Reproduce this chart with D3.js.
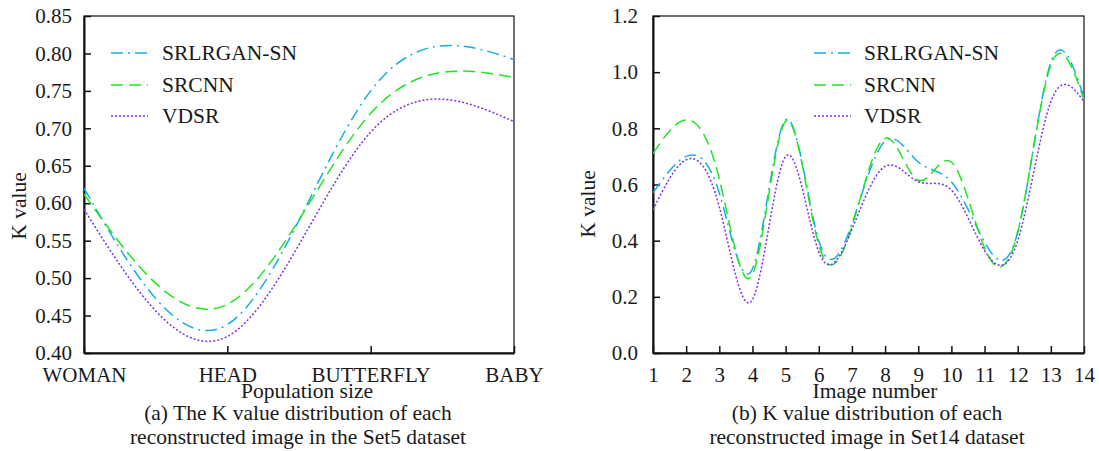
<!DOCTYPE html>
<html>
<head>
<meta charset="utf-8">
<script src="https://cdn.jsdelivr.net/npm/d3@7"></script>
<style>
  body { margin: 0; background: #fff; }
  svg { font-family: "Liberation Serif", "Times New Roman", serif; }
  .tick text { fill: #1a1a1a; }
</style>
</head>
<body>
<div id="chart"></div>
<script>
var width = 1099,
    height = 451;

// Set5 panel (a)
var set5Labels = ["WOMAN", "HEAD", "BUTTERFLY", "BABY"];
var set5Srlrgan = [0.62, 0.438, 0.75, 0.792];
var set5Srcnn = [0.612, 0.465, 0.72, 0.768];
var set5Vdsr = [0.592, 0.422, 0.695, 0.709];
var set5Ticks = [0.40, 0.45, 0.50, 0.55, 0.60, 0.65, 0.70, 0.75, 0.80, 0.85];

// Set14 panel (b)
var set14Images = [1, 2, 3, 4, 5, 6, 7, 8, 9, 10, 11, 12, 13, 14];
var set14Srlrgan = [0.57, 0.70, 0.57, 0.30, 0.83, 0.40, 0.46, 0.755, 0.68, 0.61, 0.395, 0.43, 1.035, 0.91];
var set14Srcnn = [0.71, 0.83, 0.62, 0.28, 0.825, 0.385, 0.45, 0.765, 0.615, 0.68, 0.375, 0.43, 1.025, 0.90];
var set14Vdsr = [0.51, 0.688, 0.52, 0.19, 0.70, 0.36, 0.44, 0.665, 0.61, 0.58, 0.365, 0.40, 0.895, 0.895];
var set14Ticks = [0.0, 0.2, 0.4, 0.6, 0.8, 1.0, 1.2];

var seriesNames = ["SRLRGAN-SN", "SRCNN", "VDSR"];
var seriesStyle = [
    { color: "#12aeea", dash: "12,5,2,5" },
    { color: "#1ee61e", dash: "12,6" },
    { color: "#7d2ff0", dash: "2,2" }
];

var svg = d3.select("#chart").append("svg")
    .attr("width", width)
    .attr("height", height);

svg.append("rect").attr("width", width).attr("height", height).attr("fill", "#fff");

function drawPanel(p) {
    var g = svg.append("g");

    g.append("clipPath").attr("id", p.id + "-clip")
        .append("rect")
        .attr("x", p.left).attr("y", p.top)
        .attr("width", p.right - p.left).attr("height", p.bottom - p.top);

    // frame
    g.append("rect")
        .attr("x", p.left).attr("y", p.top)
        .attr("width", p.right - p.left).attr("height", p.bottom - p.top)
        .attr("fill", "none").attr("stroke", "#111").attr("stroke-width", 1.2);

    var yAxis = d3.axisLeft(p.y)
        .tickValues(p.yTicks)
        .tickFormat(d3.format(p.yFormat))
        .tickSize(-7).tickSizeOuter(0).tickPadding(p.yPad);

    var xAxis = d3.axisBottom(p.x)
        .tickSize(-7).tickSizeOuter(0).tickPadding(14);
    if (p.xTicks) xAxis.tickValues(p.xTicks).tickFormat(d3.format("d"));

    var ya = g.append("g")
        .attr("transform", "translate(" + p.left + ",0)")
        .call(yAxis);
    var xa = g.append("g")
        .attr("transform", "translate(0," + p.bottom + ")")
        .call(xAxis);

    [ya, xa].forEach(function (a) {
        a.attr("font-size", null).attr("font-family", null);
        a.select(".domain").attr("stroke", "#111").attr("stroke-width", 2);
        a.selectAll(".tick line").attr("stroke", "#111").attr("stroke-width", 1.5);
        a.selectAll(".tick text").style("font-size", "21px");
    });

    var line = d3.line()
        .x(function (d) { return p.x(d.k); })
        .y(function (d) { return p.y(d.v); })
        .curve(d3.curveNatural);

    var lines = g.append("g").attr("clip-path", "url(#" + p.id + "-clip)");
    p.series.forEach(function (vals, i) {
        var pts = vals.map(function (v, j) { return { k: p.keys[j], v: v }; });
        lines.append("path")
            .datum(pts)
            .attr("d", line)
            .attr("fill", "none")
            .attr("stroke", seriesStyle[i].color)
            .attr("stroke-width", 1.5)
            .attr("stroke-dasharray", seriesStyle[i].dash);
    });

    // legend
    var leg = g.append("g");
    seriesNames.forEach(function (name, i) {
        var ly = p.legY[i];
        leg.append("line")
            .attr("x1", p.legX).attr("x2", p.legX + 37)
            .attr("y1", ly).attr("y2", ly)
            .attr("stroke", seriesStyle[i].color)
            .attr("stroke-width", 1.5)
            .attr("stroke-dasharray", seriesStyle[i].dash);
        leg.append("text")
            .attr("x", p.legText).attr("y", ly + 7)
            .attr("fill", "#1a1a1a")
            .style("font-size", "21.5px")
            .text(name);
    });

    g.append("text")
        .attr("transform", "translate(" + p.yLabelX + "," + p.yLabelY + ") rotate(-90)")
        .attr("text-anchor", "middle")
        .attr("fill", "#1a1a1a")
        .style("font-size", "21.5px")
        .text("K value");

    g.append("text")
        .attr("x", p.xLabelX).attr("y", 398)
        .attr("text-anchor", "middle")
        .attr("fill", "#1a1a1a")
        .style("font-size", "21.5px")
        .text(p.xLabel);

    p.caption.forEach(function (c, i) {
        g.append("text")
            .attr("x", p.capX).attr("y", 420 + i * 24)
            .attr("text-anchor", "middle")
            .attr("fill", "#1a1a1a")
            .style("font-size", "21.5px")
            .text(c);
    });
}

drawPanel({
    id: "a",
    left: 84, right: 514, top: 16, bottom: 353,
    x: d3.scalePoint().domain(set5Labels).range([84, 514]),
    y: d3.scaleLinear().domain([0.40, 0.85]).range([353, 16]),
    keys: set5Labels,
    yTicks: set5Ticks, yFormat: ".2f", yPad: 12,
    series: [set5Srlrgan, set5Srcnn, set5Vdsr],
    legX: 111, legText: 162, legY: [53, 85, 116],
    yLabelX: 26, yLabelY: 206,
    xLabel: "Population size", xLabelX: 307,
    caption: ["(a) The K value distribution of each", "reconstructed image in the Set5 dataset"],
    capX: 298
});

drawPanel({
    id: "b",
    left: 653, right: 1084, top: 16, bottom: 353,
    x: d3.scaleLinear().domain([1, 14]).range([653, 1084]),
    y: d3.scaleLinear().domain([0, 1.2]).range([353, 16]),
    keys: set14Images, xTicks: set14Images,
    yTicks: set14Ticks, yFormat: ".1f", yPad: 15,
    series: [set14Srlrgan, set14Srcnn, set14Vdsr],
    legX: 814, legText: 864, legY: [53, 85, 116],
    yLabelX: 595, yLabelY: 204,
    xLabel: "Image number", xLabelX: 875,
    caption: ["(b) K value distribution of each", "reconstructed image in Set14 dataset"],
    capX: 867
});
</script>
</body>
</html>
